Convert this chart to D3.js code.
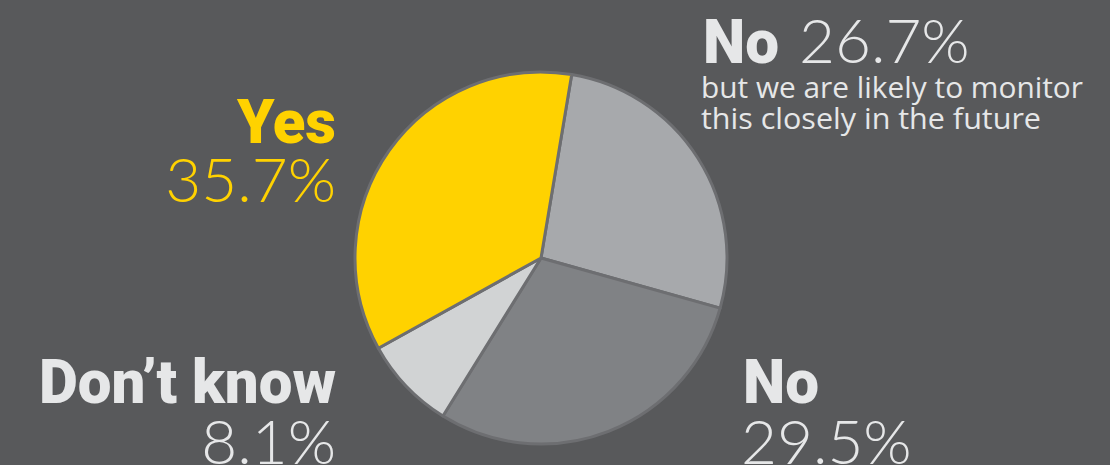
<!DOCTYPE html>
<html>
<head>
<meta charset="utf-8">
<script src="https://cdn.jsdelivr.net/npm/d3@7"></script>
<style>
  html, body { margin: 0; padding: 0; background: #58595b; }
  svg { display: block; }
  .bold { font-family: "Roboto", "Liberation Sans", sans-serif; font-weight: 900; }
  .light { font-family: "Lato", sans-serif; font-weight: 300; }
  .sub { font-family: "Open Sans", sans-serif; font-weight: 400; }
</style>
</head>
<body>
<div id="main_div"></div>
<script>
// slices in drawing order, clockwise from just right of 12 o'clock
var labels = ["No", "No", "Don\u2019t know", "Yes"];
var values = [26.7, 29.5, 8.1, 35.7];
var colors = ["#a7a9ac", "#808285", "#d1d3d4", "#ffd200"];
var subLines = ["but we are likely to monitor", "this closely in the future"];

var width = 1110, height = 465;
var cx = 541, cy = 258, r = 186;
var startDeg = 9.5;

var svg = d3.select("#main_div").append("svg").attr("width", width).attr("height", height);
svg.append("rect").attr("width", width).attr("height", height).attr("fill", "#58595b");

var pie = d3.pie().sort(null).value(function(d) { return d; })
    .startAngle(startDeg * Math.PI / 180)
    .endAngle(startDeg * Math.PI / 180 + 2 * Math.PI);
var arc = d3.arc().innerRadius(0).outerRadius(r);

var g = svg.append("g").attr("transform", "translate(" + cx + "," + cy + ")");
g.selectAll("path").data(pie(values)).enter().append("path")
    .attr("d", arc)
    .attr("fill", function(d, i) { return colors[i]; })
    .attr("stroke", "#6d6e71")
    .attr("stroke-width", 3)
    .attr("stroke-linejoin", "round");

var light = "#e6e7e8";
var fs = 62;

function label(cls, x, y, anchor, color, txt, len) {
    var t = svg.append("text").attr("class", cls).attr("x", x).attr("y", y)
        .attr("text-anchor", anchor).attr("font-size", fs).attr("fill", color).text(txt);
    if (len) t.attr("textLength", len).attr("lengthAdjust", "spacingAndGlyphs");
    return t;
}

// Yes
label("bold", 336, 143, "end", colors[3], labels[3], 99);
label("light", 336, 202, "end", colors[3], values[3] + "%");

// No 26.7%
label("bold", 703, 63, "start", light, labels[0], 76);
label("light", 799, 63, "start", light, values[0] + "%");
subLines.forEach(function(s, i) {
    svg.append("text").attr("class", "sub").attr("x", 701).attr("y", 98 + i * 31)
        .attr("font-size", 29.5).attr("fill", light)
        .attr("textLength", i == 0 ? 382 : 340).attr("lengthAdjust", "spacingAndGlyphs")
        .text(s);
});

// No 29.5%
label("bold", 743, 403, "start", light, labels[1], 76);
label("light", 741, 464, "start", light, values[1] + "%");

// Don't know
label("bold", 336, 403, "end", light, labels[2], 297);
label("light", 336, 464, "end", light, values[2] + "%");
</script>
</body>
</html>
